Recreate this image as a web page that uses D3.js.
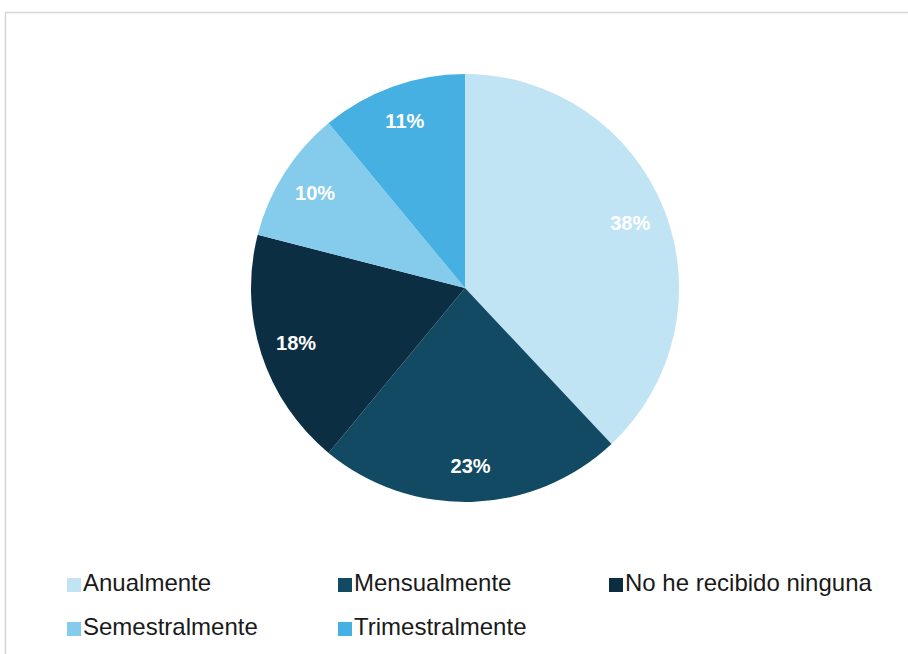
<!DOCTYPE html>
<html>
<head>
<meta charset="utf-8">
<script src="https://cdn.jsdelivr.net/npm/d3@7"></script>
<style>
  html, body { margin: 0; padding: 0; background: #ffffff; }
  svg { display: block; }
</style>
</head>
<body>
<svg id="chart" width="908" height="654"></svg>
<script>
// Frequency categories and their shares (%)
const categories = ["Anualmente", "Mensualmente", "No he recibido ninguna", "Semestralmente", "Trimestralmente"];
const shares = [38, 23, 18, 10, 11];
const colors = ["#c1e4f5", "#124a64", "#0c2e42", "#85cbec", "#45b0e1"];

const svg = d3.select("#chart");

// Chart frame (only top and left edges fall inside the view)
svg.append("rect")
  .attr("x", 5.5).attr("y", 12.5)
  .attr("width", 1000).attr("height", 1000)
  .attr("fill", "#ffffff")
  .attr("stroke", "#d6d6d6")
  .attr("stroke-width", 1.5);

const cx = 465, cy = 288, radius = 214;
const data = categories.map((c, i) => ({ name: c, value: shares[i], color: colors[i] }));

const pie = d3.pie().value(d => d.value).sort(null);
const arc = d3.arc().innerRadius(0).outerRadius(radius);
const labelArc = d3.arc().innerRadius(radius * 0.83).outerRadius(radius * 0.83);

const g = svg.append("g").attr("transform", `translate(${cx},${cy})`);
const arcs = pie(data);

g.selectAll("path.slice")
  .data(arcs)
  .join("path")
  .attr("class", "slice")
  .attr("d", arc)
  .attr("fill", d => d.data.color);

g.selectAll("text.pct")
  .data(arcs)
  .join("text")
  .attr("class", "pct")
  .attr("transform", d => `translate(${labelArc.centroid(d)})`)
  .attr("text-anchor", "middle")
  .attr("dominant-baseline", "central")
  .attr("font-family", "'Liberation Sans', Arial, sans-serif")
  .attr("font-weight", "bold")
  .attr("font-size", 20)
  .attr("fill", "#ffffff")
  .text(d => d.data.value + "%");

// Legend: three columns, two rows
const legendX = d3.scaleOrdinal().domain([0, 1, 2]).range([67, 338, 609]);
const legendY = d3.scaleOrdinal().domain([0, 1]).range([591, 635]);

const legend = svg.append("g");
const items = legend.selectAll("g.item")
  .data(data)
  .join("g")
  .attr("class", "item")
  .attr("transform", (d, i) => `translate(${legendX(i % 3)},${legendY(Math.floor(i / 3))})`);

items.append("rect")
  .attr("x", 0).attr("y", -13)
  .attr("width", 14).attr("height", 14)
  .attr("fill", d => d.color);

items.append("text")
  .attr("x", 16).attr("y", 0)
  .attr("font-family", "'Liberation Sans', Arial, sans-serif")
  .attr("font-size", 24)
  .attr("fill", "#1a1a1a")
  .text(d => d.name);
</script>
</body>
</html>
